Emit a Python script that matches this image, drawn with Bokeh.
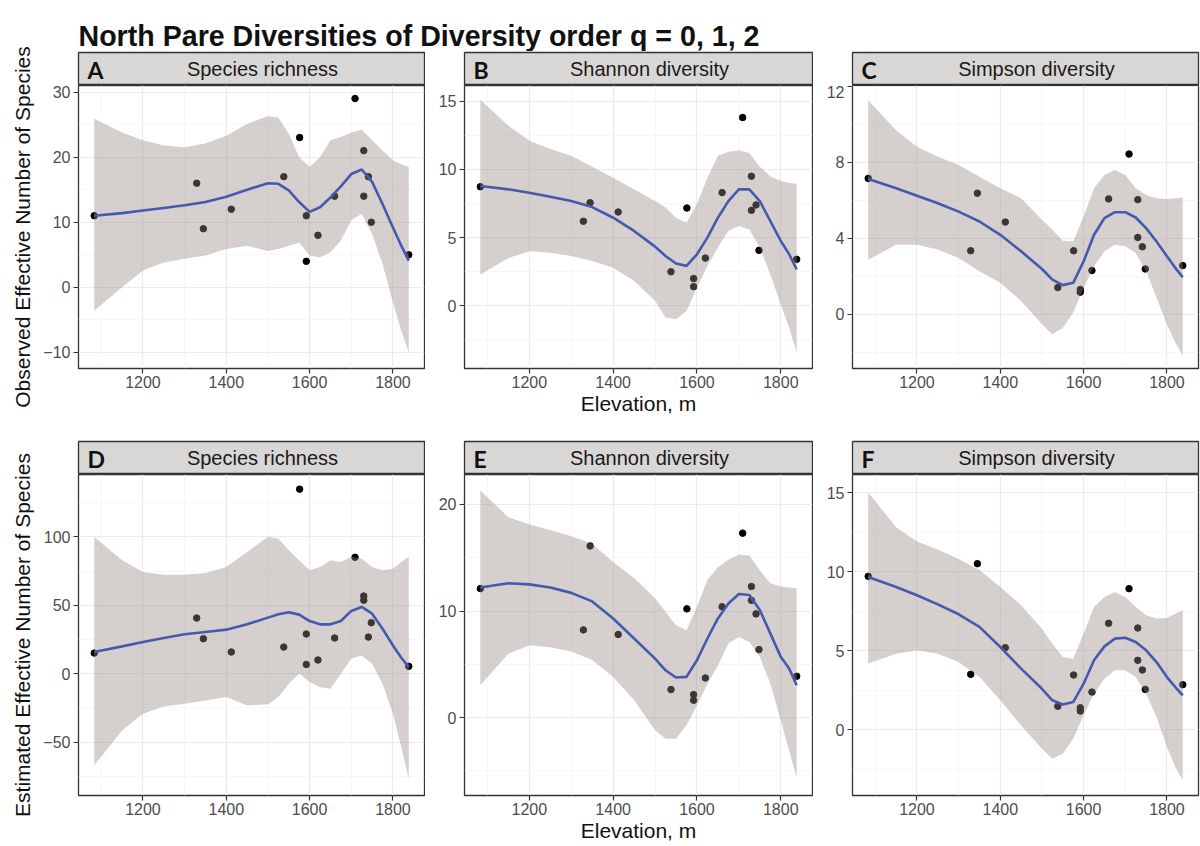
import math

from bokeh.plotting import figure
from bokeh.layouts import column, row
from bokeh.models import FixedTicker, Range1d
from bokeh.core.properties import value
from bokeh.embed import file_html
from bokeh.resources import INLINE

# ---- site data -------------------------------------------------------------
elevation = [1083, 1329, 1345, 1412, 1538, 1576, 1592, 1592, 1620, 1660,
             1709, 1730, 1730, 1741, 1748, 1838]

obs_richness = [11, 16, 9, 12, 17, 23, 11, 4, 8, 14, 29, 21, 14, 17, 10, 5]
obs_shannon = [8.73, 6.2, 7.56, 6.88, 2.5, 7.17, 2.0, 1.41, 3.5, 8.3,
               13.8, 9.5, 7.0, 7.4, 4.07, 3.41]
obs_simpson = [7.16, 3.35, 6.38, 4.86, 1.41, 3.35, 1.31, 1.17, 2.31, 6.08,
               8.44, 6.04, 4.05, 3.56, 2.39, 2.57]
est_richness = [15.1, 40.7, 25.6, 15.9, 19.5, 134.9, 29.0, 6.8, 10.0, 26.1,
                85.1, 56.8, 53.7, 26.8, 37.3, 5.4]
est_shannon = [12.1, 8.23, 16.1, 7.8, 2.63, 10.2, 2.16, 1.63, 3.72, 10.4,
               17.3, 12.3, 11.0, 9.73, 6.38, 3.88]
est_simpson = [9.7, 3.5, 10.5, 5.19, 1.48, 3.46, 1.39, 1.18, 2.38, 6.73,
               8.92, 6.43, 4.39, 3.78, 2.55, 2.85]

# ---- loess smooth (fit, upper and lower confidence band) --------------------
smooth_elev = [1083, 1150, 1200, 1250, 1300, 1350, 1400, 1450, 1500, 1525,
               1550, 1575, 1600, 1625, 1650, 1675, 1700, 1725, 1750, 1775,
               1800, 1820, 1838]

fit_obs_richness = [11.0, 11.4, 11.8, 12.2, 12.6, 13.1, 13.9, 15.0, 16.0, 15.9,
                    14.9, 13.1, 11.6, 12.3, 13.8, 15.5, 17.4, 18.1, 16.2, 12.8,
                    9.2, 6.4, 4.1]
upr_obs_richness = [25.9, 23.8, 22.6, 21.8, 21.5, 22.1, 23.3, 25.1, 26.3, 26.1,
                    23.6, 20.0, 18.5, 20.0, 22.6, 23.1, 23.8, 24.2, 22.6, 21.0,
                    19.5, 18.9, 18.5]
lwr_obs_richness = [-3.6, 0.0, 2.6, 3.8, 4.4, 4.9, 5.9, 6.4, 5.6, 5.9,
                    6.4, 6.9, 4.9, 4.6, 5.4, 7.2, 10.3, 11.3, 8.2, 3.6,
                    -2.3, -6.7, -10.0]

fit_obs_shannon = [8.78, 8.54, 8.29, 8.0, 7.68, 7.24, 6.46, 5.49, 4.34, 3.66,
                   3.1, 2.93, 3.78, 5.0, 6.46, 7.68, 8.54, 8.54, 7.68, 6.22,
                   4.76, 3.78, 2.68]
upr_obs_shannon = [15.1, 13.2, 12.1, 11.5, 11.0, 10.2, 9.39, 8.54, 7.68, 7.2,
                   6.46, 6.1, 7.44, 9.39, 11.0, 11.3, 11.4, 11.2, 10.2, 9.5,
                   9.15, 9.0, 8.95]
lwr_obs_shannon = [2.3, 3.5, 4.0, 3.9, 3.66, 3.29, 2.8, 1.83, 0.37, -0.85,
                   -0.98, -0.37, 1.34, 2.93, 4.27, 5.49, 5.85, 5.6, 4.27, 2.3,
                   0.12, -1.59, -3.41]

fit_obs_simpson = [7.13, 6.64, 6.25, 5.85, 5.41, 4.89, 4.19, 3.32, 2.39, 1.83,
                   1.54, 1.66, 2.79, 4.19, 5.07, 5.38, 5.38, 5.1, 4.54, 3.84,
                   3.06, 2.45, 1.96]
upr_obs_simpson = [11.27, 9.69, 8.82, 8.3, 7.86, 7.25, 6.64, 6.11, 4.98, 4.45,
                   3.88, 3.84, 5.15, 6.64, 7.34, 7.6, 7.34, 6.64, 6.29, 6.11,
                   6.08, 6.11, 6.15]
lwr_obs_simpson = [2.88, 3.67, 3.67, 3.41, 2.97, 2.27, 1.66, 0.7, -0.52, -1.05,
                   -0.7, 0.09, 1.4, 2.53, 3.32, 3.67, 3.58, 3.23, 2.27, 0.87,
                   -0.52, -1.48, -2.18]

fit_est_richness = [15.9, 20.0, 23.2, 26.1, 28.8, 30.5, 32.2, 36.1, 41.0, 43.4,
                    44.9, 43.2, 38.5, 36.1, 36.1, 38.5, 45.9, 48.8, 43.9, 32.9,
                    20.7, 11.7, 4.9]
upr_est_richness = [100.0, 82.9, 74.4, 72.4, 72.4, 73.7, 78.0, 89.0, 100.0, 98.8,
                    90.2, 82.9, 75.6, 78.0, 82.9, 81.7, 85.4, 84.1, 78.0, 75.6,
                    76.8, 81.7, 85.4]
lwr_est_richness = [-67.0, -41.5, -29.3, -23.9, -22.0, -19.5, -17.1, -23.2, -22.4, -17.1,
                    -7.3, 0.0, -6.1, -9.8, -11.0, 0.0, 11.0, 13.4, 7.3, -7.3,
                    -29.3, -53.7, -76.8]

fit_est_shannon = [12.2, 12.6, 12.5, 12.2, 11.7, 10.9, 9.3, 7.42, 5.54, 4.44,
                   3.76, 3.82, 5.38, 7.42, 9.3, 10.7, 11.6, 11.5, 10.1, 7.9,
                   5.7, 4.6, 3.04]
upr_est_shannon = [21.3, 18.8, 18.1, 17.6, 17.0, 16.3, 14.6, 13.1, 11.2, 9.92,
                   8.67, 8.2, 10.4, 12.9, 14.1, 14.8, 15.3, 15.2, 13.8, 12.6,
                   12.3, 12.2, 12.1]
lwr_est_shannon = [3.04, 6.0, 6.8, 6.6, 6.2, 5.4, 3.8, 1.63, -1.19, -1.97,
                   -1.97, -0.72, 1.16, 3.19, 4.9, 6.95, 7.57, 7.1, 5.7, 3.2,
                   -0.25, -3.07, -5.57]

fit_est_simpson = [9.66, 9.03, 8.5, 7.93, 7.3, 6.5, 5.23, 3.86, 2.59, 1.86,
                   1.6, 1.75, 2.91, 4.39, 5.27, 5.76, 5.82, 5.55, 5.02, 4.28,
                   3.33, 2.7, 2.17]
upr_est_simpson = [15.0, 12.8, 11.9, 11.4, 10.8, 10.1, 9.03, 7.87, 6.39, 5.44,
                   4.6, 4.49, 6.08, 7.76, 8.4, 8.71, 8.4, 7.76, 7.24, 7.03,
                   7.07, 7.34, 7.55]
lwr_est_simpson = [4.18, 4.81, 5.02, 4.81, 4.28, 3.33, 1.86, 0.27, -1.2, -1.84,
                   -1.52, -0.57, 0.91, 2.28, 3.23, 3.76, 3.76, 3.33, 2.28, 0.8,
                   -1.1, -2.36, -3.2]

x_ticks = [1200, 1400, 1600, 1800]
x_minor = [1100, 1300, 1500, 1700]

# ---- styling ----------------------------------------------------------------
FONT = "Liberation Sans"
BORDER = "#333333"
RIBBON = "#968A84"
LINE = "#4659AE"
STRIP_H = 33
LABEL_W = 40          # width of the column holding the shared y titles
PAGE_H = 846


def strip(letter, label, left, width, right):
    s = figure(frame_width=width, frame_height=STRIP_H,
               min_border_left=left, min_border_right=right,
               min_border_top=1, min_border_bottom=0,
               x_range=Range1d(0, width), y_range=Range1d(0, STRIP_H),
               x_axis_type=None, y_axis_type=None,
               output_backend="svg", toolbar_location=None)
    s.background_fill_color = "#D9D7D5"
    s.border_fill_color = "white"
    s.outline_line_color = BORDER
    s.outline_line_width = 1.3
    s.xgrid.visible = False
    s.ygrid.visible = False
    s.text(x=[9], y=[STRIP_H / 2 - 1], text=[letter],
           text_font=value("Lato"), text_font_style="bold",
           text_font_size="23px", text_color="#111111",
           text_align="left", text_baseline="middle")
    s.text(x=[width / 2 + 11], y=[STRIP_H / 2 + 0.5], text=[label],
           text_font=value(FONT), text_font_size="20px", text_color="#1A1A1A",
           text_align="center", text_baseline="middle")
    return s


def panel(vals, fit, upr, lwr, yr, yticks, yminor, left, width, right,
          height, bottom, xlabel=None):
    p = figure(frame_width=width, frame_height=height,
               min_border_left=left, min_border_right=right,
               min_border_top=0, min_border_bottom=bottom,
               x_range=Range1d(1045.25, 1875.75), y_range=Range1d(*yr),
               output_backend="svg", toolbar_location=None)
    p.background_fill_color = "white"
    p.border_fill_color = "white"
    p.outline_line_color = BORDER
    p.outline_line_width = 1.3

    p.xaxis.ticker = FixedTicker(ticks=x_ticks, minor_ticks=x_minor)
    p.yaxis.ticker = FixedTicker(ticks=yticks, minor_ticks=yminor)
    p.yaxis.major_label_overrides = {t: "\u2212%g" % (-t) for t in yticks if t < 0}
    for ax in (p.xaxis[0], p.yaxis[0]):
        ax.axis_line_color = None
        ax.major_tick_line_color = BORDER
        ax.major_tick_line_width = 1.2
        ax.major_tick_out = 5
        ax.major_tick_in = 0
        ax.minor_tick_line_color = None
        ax.major_label_text_font = FONT
        ax.major_label_text_font_size = "16px"
        ax.major_label_text_color = "#4D4D4D"
        ax.axis_label_text_font = FONT
        ax.axis_label_text_font_size = "21px"
        ax.axis_label_text_font_style = "normal"
        ax.axis_label_text_color = "#111111"
    p.xaxis.major_label_standoff = 2
    p.yaxis.major_label_standoff = 3
    if xlabel:
        p.xaxis.axis_label = xlabel
        p.xaxis.axis_label_standoff = 1

    for g in (p.xgrid[0], p.ygrid[0]):
        g.grid_line_color = "#EBEBEB"
        g.grid_line_width = 1.2
        g.minor_grid_line_color = "#F4F4F4"
        g.minor_grid_line_width = 0.7

    p.scatter(elevation, vals, size=6.5, color="black")
    p.varea(x=smooth_elev, y1=lwr, y2=upr, fill_color=RIBBON, fill_alpha=0.4)
    p.line(smooth_elev, fit, line_color=LINE, line_width=2.6)
    return p


# column geometry: (left border, frame width, right border)
cols = [(38, 346, 1), (39, 348, 1), (39, 346, 2)]

row1_specs = [
    ("A", "Species richness", obs_richness, fit_obs_richness, upr_obs_richness,
     lwr_obs_richness, (-12.46, 31.0), [-10, 0, 10, 20, 30], [-5, 5, 15, 25]),
    ("B", "Shannon diversity", obs_shannon, fit_obs_shannon, upr_obs_shannon,
     lwr_obs_shannon, (-4.59, 16.15), [0, 5, 10, 15], [-2.5, 2.5, 7.5, 12.5]),
    ("C", "Simpson diversity", obs_simpson, fit_obs_simpson, upr_obs_simpson,
     lwr_obs_simpson, (-2.85, 12.05), [0, 4, 8, 12], [-2, 2, 6, 10]),
]
row2_specs = [
    ("D", "Species richness", est_richness, fit_est_richness, upr_est_richness,
     lwr_est_richness, (-89.0, 145.6), [-50, 0, 50, 100], [-75, -25, 25, 75, 125]),
    ("E", "Shannon diversity", est_shannon, fit_est_shannon, upr_est_shannon,
     lwr_est_shannon, (-7.3, 22.8), [0, 10, 20], [-5, 5, 15]),
    ("F", "Simpson diversity", est_simpson, fit_est_simpson, upr_est_simpson,
     lwr_est_simpson, (-4.16, 16.14), [0, 5, 10, 15], [-2.5, 2.5, 7.5, 12.5]),
]


def build_row(specs, height, bottom):
    cells = []
    for i, (spec, (lb, fw, rb)) in enumerate(zip(specs, cols)):
        letter, label, vals, fit, upr, lwr, yr, yt, ym = spec
        s = strip(letter, label, lb, fw, rb)
        p = panel(vals, fit, upr, lwr, yr, yt, ym, lb, fw, rb, height, bottom,
                  xlabel="Elevation, m" if i == 1 else None)
        cells.append(column(s, p, spacing=0))
    return row(*cells, spacing=0)


title = figure(frame_width=1200 - LABEL_W, frame_height=51, min_border=0,
               x_range=Range1d(0, 1200 - LABEL_W), y_range=Range1d(0, 51),
               x_axis_type=None, y_axis_type=None,
               output_backend="svg", toolbar_location=None)
title.outline_line_color = None
title.xgrid.visible = False
title.ygrid.visible = False
title.text(x=[38], y=[16], text=["North Pare Diversities of Diversity order q = 0, 1, 2"],
           text_font=value(FONT), text_font_style="bold", text_font_size="28.6px",
           text_color="#111111", text_align="left", text_baseline="alphabetic")

# shared y-axis titles, each centred on its row of panels
ytitles = figure(frame_width=LABEL_W, frame_height=PAGE_H, min_border=0,
                 x_range=Range1d(0, LABEL_W), y_range=Range1d(0, PAGE_H),
                 x_axis_type=None, y_axis_type=None,
                 output_backend="svg", toolbar_location=None)
ytitles.outline_line_color = None
ytitles.xgrid.visible = False
ytitles.ygrid.visible = False
ytitles.text(x=[22, 22], y=[PAGE_H - 226.5, PAGE_H - 634.5],
             text=["Observed Effective Number of Species",
                   "Estimated Effective Number of Species"],
             angle=math.pi / 2, text_font=value(FONT), text_font_size="21px",
             text_color="#111111", text_align="center", text_baseline="middle")

row1 = build_row(row1_specs, 283, 72)
row2 = build_row(row2_specs, 321, 51)

layout = row(ytitles, column(title, row1, row2, spacing=0), spacing=0)

with open("out.html", "w") as f:
    f.write(file_html(layout, INLINE))
